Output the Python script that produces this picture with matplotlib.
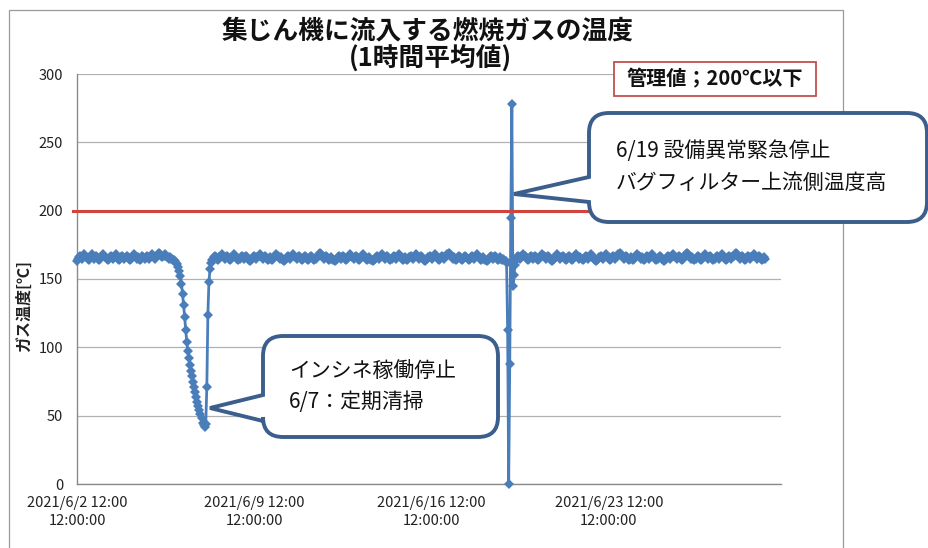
import matplotlib
matplotlib.use("Agg")
import matplotlib.pyplot as plt
from matplotlib.path import Path
from matplotlib.patches import PathPatch, Rectangle
import pandas as pd

plt.rcParams['font.family'] = ['Noto Sans CJK JP', 'DejaVu Sans']

# ---------------- data (hourly averages, °C) ----------------
start_time = "2021-06-02 12:00"

normal_a = [
    163,165,166,167,166,165,166,168,167,166,165,164,166,167,168,167,165,166,167,166,165,164,165,166,
    167,168,167,166,165,164,165,166,167,166,165,166,167,168,166,165,164,165,166,167,166,165,166,167,
    166,165,164,165,166,167,168,167,166,165,166,165,164,165,167,166,165,166,167,166,165,166,167,168,
    167,166,165,166,167,168,169,168,167,166,167,168,167,166,166,165,166,
]
cleaning_dip = [
    165,165,164,164,163,162,161,159,156,152,146,139,131,122,113,104,97,92,87,83,79,75,71,67,
    64,60,57,54,51,48,45,43,42,
]
restart = [44,71,124,148,157,162,164]
normal_b = [
    165,166,167,166,165,164,166,167,168,167,166,165,166,167,166,165,164,165,166,167,168,167,166,165,
    164,165,166,167,166,165,166,167,166,165,164,163,164,165,166,167,166,165,166,167,168,167,166,165,
    166,167,166,165,164,165,166,165,164,165,166,167,168,167,166,165,166,165,164,163,164,165,166,167,
    166,165,166,167,168,167,166,165,166,167,166,165,164,165,166,167,166,165,164,165,166,167,166,165,
    164,165,166,167,168,169,168,167,166,165,166,167,166,165,164,165,166,165,164,163,164,165,166,167,
    166,165,166,167,166,165,164,165,166,167,168,167,166,165,166,167,166,165,164,165,166,167,168,167,
    166,165,164,165,166,165,164,163,164,165,166,167,166,165,166,167,168,167,166,165,166,167,166,165,
    164,165,166,167,166,165,166,167,168,167,166,165,164,165,166,165,164,165,166,167,166,165,166,167,
    168,167,166,165,166,167,166,165,164,163,164,165,166,167,166,165,166,167,168,167,166,165,164,165,
    166,167,166,165,166,167,168,169,168,167,166,165,166,165,164,165,166,167,166,165,164,165,166,167,
    166,165,164,165,166,167,166,165,166,167,168,167,166,165,164,165,166,165,164,163,164,165,166,167,
    166,165,166,167,166,165,164,165,166,165,164,165,164,163,
]
trip_spike = [162,113,0,88,195,278,145,153,160]
normal_c = [
    164,166,167,166,165,166,167,168,167,166,165,164,165,166,167,166,165,166,167,166,165,164,165,166,
    167,168,167,166,165,166,167,166,165,164,163,164,165,166,167,168,167,166,165,166,167,166,165,164,
    165,166,167,166,165,164,165,166,167,168,167,166,165,166,165,164,165,166,167,166,165,166,167,168,
    167,166,165,164,163,164,165,166,167,166,165,166,167,168,167,166,165,164,165,166,167,166,165,166,
    167,168,169,168,167,166,165,166,167,166,165,164,165,166,165,164,165,166,167,168,167,166,165,166,
    165,164,165,166,167,166,165,166,167,168,167,166,165,164,165,166,167,166,165,164,163,164,165,166,
    167,166,165,166,167,168,167,166,165,166,167,166,165,164,165,166,167,168,169,168,167,166,165,166,
    165,164,165,166,167,166,165,164,165,166,167,168,167,166,165,166,167,166,165,164,165,166,167,166,
    165,166,167,168,167,166,165,164,165,166,167,166,165,166,167,168,169,168,167,166,165,166,167,166,
    165,164,165,166,167,166,165,166,167,168,167,166,165,166,167,166,165,164,165,166,165,
]
limit_value = 200
y_ticks = [0, 50, 100, 150, 200, 250, 300]
x_tick_dates = ["2021-06-02 12:00", "2021-06-09 12:00", "2021-06-16 12:00", "2021-06-23 12:00"]
x_tick_labels = ["2021/6/2 12:00\n12:00:00", "2021/6/9 12:00\n12:00:00",
                 "2021/6/16 12:00\n12:00:00", "2021/6/23 12:00\n12:00:00"]

temperature = normal_a + cleaning_dip + restart + normal_b + trip_spike + normal_c
times = pd.date_range(start=start_time, periods=len(temperature), freq="h")

# ---------------- figure ----------------
W, H = 929, 548
fig = plt.figure(figsize=(W / 100, H / 100), dpi=100)
fig.patch.set_facecolor("white")

def fx(x):
    return x / W

def fy(y):
    return 1 - y / H

# outer chart border
fig.add_artist(Rectangle((fx(9), fy(560)), fx(843) - fx(9), fy(10) - fy(560),
                         transform=fig.transFigure, fill=False,
                         edgecolor="#9a9a9a", linewidth=0.9, zorder=0))

ax = fig.add_axes([fx(77), fy(484), fx(781) - fx(77), fy(74) - fy(484)])
ax.set_facecolor("none")

ax.plot(times, temperature, color="#4A7EBB", linewidth=2.0, marker="D",
        markersize=5.6, markeredgewidth=0, zorder=3, clip_on=False)

ax.axhline(limit_value, xmin=-0.006, xmax=1, color="#D0443E", linewidth=2.2,
           zorder=4, clip_on=False)

ax.set_ylim(0, 300)
ax.set_yticks(y_ticks)
ax.set_xlim(pd.Timestamp(start_time), pd.Timestamp(start_time) + pd.Timedelta(hours=667))
ax.set_xticks([pd.Timestamp(d) for d in x_tick_dates])
ax.set_xticklabels(x_tick_labels, fontsize=10.5, linespacing=1.35)
ax.tick_params(axis="both", length=0, colors="#222222")
ax.tick_params(axis="y", labelsize=10.5, pad=10)
ax.tick_params(axis="x", pad=9)
ax.grid(axis="y", color="#b0b0b0", linewidth=0.9)
ax.set_axisbelow(True)
for s in ["top", "right"]:
    ax.spines[s].set_visible(False)
for s in ["left", "bottom"]:
    ax.spines[s].set_color("#8a8a8a")
    ax.spines[s].set_linewidth(1.0)

fig.text(fx(24), fy(306), "ガス温度[℃]", rotation=90, ha="center", va="center",
         fontsize=11.5, fontweight="bold", color="#222222")

# title
fig.text(fx(428), fy(31), "集じん機に流入する燃焼ガスの温度", ha="center", va="center",
         fontsize=18.5, fontweight="bold", color="#111111")
fig.text(fx(430), fy(58), "(1時間平均値)", ha="center", va="center",
         fontsize=18.5, fontweight="bold", color="#111111")

# limit box
fig.add_artist(Rectangle((fx(614), fy(96)), fx(816) - fx(614), fy(62) - fy(96),
                         transform=fig.transFigure, facecolor="white",
                         edgecolor="#C0504D", linewidth=1.3, zorder=5))
fig.text(fx(715), fy(79), "管理値；200℃以下", ha="center", va="center",
         fontsize=14.5, fontweight="bold", color="#111111", zorder=6)


def callout(x0, y0, x1, y1, r, yb1, yb2, tip):
    tx, ty = tip
    pts = [
        ((x0 + r, y0), Path.MOVETO),
        ((x1 - r, y0), Path.LINETO),
        ((x1, y0), Path.CURVE3), ((x1, y0 + r), Path.CURVE3),
        ((x1, y1 - r), Path.LINETO),
        ((x1, y1), Path.CURVE3), ((x1 - r, y1), Path.CURVE3),
        ((x0 + r, y1), Path.LINETO),
        ((x0, y1), Path.CURVE3), ((x0, y1 - r), Path.CURVE3),
        ((x0, yb2), Path.LINETO),
        ((tx, ty), Path.LINETO),
        ((x0, yb1), Path.LINETO),
        ((x0, y0 + r), Path.LINETO),
        ((x0, y0), Path.CURVE3), ((x0 + r, y0), Path.CURVE3),
        ((x0 + r, y0), Path.CLOSEPOLY),
    ]
    verts = [(fx(p[0]), fy(p[1])) for p, _ in pts]
    codes = [c for _, c in pts]
    patch = PathPatch(Path(verts, codes), transform=fig.transFigure,
                      facecolor="white", edgecolor="#3B5E8C", linewidth=2.8,
                      joinstyle="miter", zorder=7)
    fig.add_artist(patch)


callout(263, 336, 498, 437, 20, 395, 421, (210, 408))
fig.text(fx(289), fy(371), "インシネ稼働停止", ha="left", va="center",
         fontsize=15, color="#111111", zorder=8)
fig.text(fx(289), fy(402), "6/7：定期清掃", ha="left", va="center",
         fontsize=15, color="#111111", zorder=8)

callout(589, 113, 927, 222, 20, 177, 202, (514, 194))
fig.text(fx(616), fy(151), "6/19 設備異常緊急停止", ha="left", va="center",
         fontsize=15, color="#111111", zorder=8)
fig.text(fx(616), fy(183), "バグフィルター上流側温度高", ha="left", va="center",
         fontsize=15, color="#111111", zorder=8)

fig.savefig("out.png", dpi=100)
